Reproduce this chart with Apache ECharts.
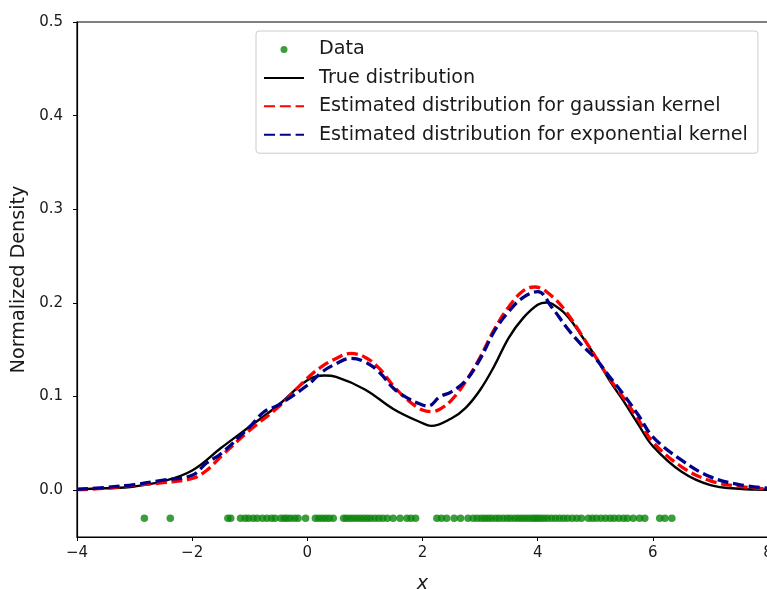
<!DOCTYPE html>
<html>
<head>
<meta charset="utf-8">
<script src="https://cdn.jsdelivr.net/npm/echarts@6/dist/echarts.min.js"></script>
<style>
  html, body { margin: 0; padding: 0; background: #fff; }
  #chart { width: 767px; height: 589px; }
</style>
</head>
<body>
<div id="chart"></div>
<script>
// Sample positions (drawn as a strip just below zero)
const sampleX = [
  -2.83, -2.38, -1.38, -1.33, -1.16, -1.08, -1.02, -0.94, -0.87, -0.78, -0.7, -0.62,
  -0.56, -0.46, -0.4, -0.35, -0.29, -0.22, -0.16, -0.03, 0.14, 0.2, 0.26, 0.32,
  0.38, 0.45, 0.63, 0.68, 0.74, 0.8, 0.86, 0.92, 0.98, 1.04, 1.1, 1.17, 1.24, 1.31,
  1.39, 1.49, 1.61, 1.73, 1.8, 1.88,
  2.25, 2.33, 2.42, 2.55, 2.66, 2.79, 2.88, 2.95, 3.02, 3.08, 3.14, 3.2, 3.27, 3.33,
  3.4, 3.47, 3.53, 3.6, 3.66, 3.72, 3.78, 3.84, 3.9, 3.95, 4.0, 4.05, 4.11, 4.17,
  4.24, 4.31, 4.38, 4.45, 4.52, 4.6, 4.68, 4.76, 4.88, 4.95, 5.02, 5.1, 5.18, 5.26,
  5.33, 5.41, 5.49, 5.56, 5.66, 5.77, 5.86, 6.12, 6.21, 6.33
];
const sampleY = -0.03;

// True density curve
const trueX = [-4, -3.5, -3, -2.5, -2, -1.5, -1, -0.5, 0, 0.3, 0.5, 1, 1.5, 2, 2.15, 2.5, 2.75, 3, 3.25, 3.5, 3.75, 4, 4.15, 4.25, 4.5, 4.75, 5, 5.25, 5.5, 5.75, 6, 6.5, 7, 7.5, 8];
const trueY = [0.001, 0.002, 0.004, 0.0096, 0.021, 0.045, 0.068, 0.091, 0.1175, 0.1225, 0.121, 0.1076, 0.0865, 0.0716, 0.0687, 0.0766, 0.088, 0.107, 0.133, 0.163, 0.184, 0.198, 0.2005, 0.199, 0.187, 0.166, 0.143, 0.117, 0.0944, 0.07, 0.047, 0.0196, 0.0053, 0.0015, 0.0005];

// Gaussian-kernel estimate
const gaussX = [-4, -3.5, -3, -2.5, -2, -1.75, -1.5, -1, -0.5, 0, 0.25, 0.5, 0.75, 1, 1.25, 1.5, 1.75, 2, 2.15, 2.3, 2.5, 2.75, 3, 3.25, 3.5, 3.75, 3.95, 4.25, 4.5, 4.75, 5, 5.25, 5.5, 5.75, 6, 6.5, 7, 7.5, 8];
const gaussY = [0.0005, 0.002, 0.0053, 0.008, 0.0125, 0.021, 0.036, 0.064, 0.089, 0.1195, 0.132, 0.1407, 0.146, 0.142, 0.13, 0.111, 0.096, 0.0855, 0.084, 0.0865, 0.096, 0.116, 0.142, 0.172, 0.196, 0.213, 0.217, 0.207, 0.19, 0.167, 0.143, 0.119, 0.098, 0.075, 0.0516, 0.025, 0.01, 0.004, 0.0015];

// Exponential-kernel estimate
const expoX = [-4, -3.5, -3, -2.5, -2, -1.75, -1.5, -1, -0.75, -0.5, 0, 0.25, 0.5, 0.75, 1, 1.25, 1.5, 1.75, 2, 2.1, 2.3, 2.5, 2.75, 3, 3.25, 3.5, 3.75, 4, 4.25, 4.5, 4.75, 5, 5.25, 5.5, 5.75, 6, 6.5, 7, 7.5, 8];
const expoY = [0.001, 0.003, 0.006, 0.0107, 0.016, 0.029, 0.039, 0.0677, 0.0837, 0.091, 0.112, 0.126, 0.135, 0.1407, 0.137, 0.126, 0.1086, 0.098, 0.091, 0.09, 0.0997, 0.105, 0.117, 0.14, 0.17, 0.191, 0.206, 0.212, 0.195, 0.174, 0.156, 0.141, 0.121, 0.1015, 0.08, 0.057, 0.032, 0.0142, 0.006, 0.002];

const yTicks = [0, 0.1, 0.2, 0.3, 0.4, 0.5];

const pairs = (xs, ys) => xs.map((x, i) => [x, ys[i]]);
const FONT = 'DejaVu Sans';
const INK = '#1a1a1a';
const DASH = [11, 4.8];

// Legend entries for lines show only the stroke (no centre marker)
const lineEntry = name => ({ name, itemStyle: { opacity: 0 } });

const chart = echarts.init(document.getElementById('chart'), null, { renderer: 'canvas' });
chart.setOption({
  animation: false,
  backgroundColor: '#fff',
  textStyle: { fontFamily: FONT },
  grid: {
    left: 77, top: 22, width: 691, height: 515,
    outerBoundsMode: 'none', containLabel: false,
    show: true, borderColor: '#000', borderWidth: 1.2, backgroundColor: 'transparent'
  },
  legend: {
    orient: 'vertical',
    left: 256, top: 31,
    selectedMode: false,
    itemWidth: 40, itemHeight: 7, itemGap: 6.4,
    padding: [7.5, 10, 7.5, 7],
    borderColor: '#cccccc', borderWidth: 1, borderRadius: 3,
    backgroundColor: 'rgba(255,255,255,0.8)',
    textStyle: { fontFamily: FONT, fontSize: 19.2, color: INK, lineHeight: 22, padding: [0, 0, 0, 10] },
    data: [
      { name: 'Data' },
      lineEntry('True distribution'),
      lineEntry('Estimated distribution for gaussian kernel'),
      lineEntry('Estimated distribution for exponential kernel')
    ]
  },
  xAxis: {
    type: 'value', min: -4, max: 8, interval: 2,
    name: 'x', nameLocation: 'middle', nameGap: 38,
    nameTextStyle: { fontFamily: FONT, fontSize: 19.2, fontStyle: 'italic', color: INK },
    axisLine: { show: true, onZero: false, lineStyle: { color: '#000', width: 1.2 } },
    axisTick: { show: true, length: 4, lineStyle: { color: '#000', width: 1 } },
    axisLabel: { fontFamily: FONT, fontSize: 15, color: INK, margin: 9,
      formatter: v => String(v).replace('-', '\u2212') },
    splitLine: { show: false }
  },
  yAxis: {
    type: 'value', min: -0.05, max: 0.5,
    name: 'Normalized Density', nameLocation: 'middle', nameRotate: 90, nameGap: 47,
    nameTextStyle: { fontFamily: FONT, fontSize: 19.2, color: INK },
    axisLine: { show: true, onZero: false, lineStyle: { color: '#000', width: 1.2 } },
    axisTick: { show: true, length: 4, customValues: yTicks, lineStyle: { color: '#000', width: 1 } },
    axisLabel: { fontFamily: FONT, fontSize: 15, color: INK, margin: 14, customValues: yTicks,
      formatter: v => v.toFixed(1) },
    splitLine: { show: false }
  },
  series: [
    {
      name: 'Data', type: 'scatter',
      data: sampleX.map(x => [x, sampleY]),
      symbol: 'circle', symbolSize: 7.5,
      itemStyle: { color: '#0a850a' },
      z: 2
    },
    {
      name: 'True distribution', type: 'line',
      data: pairs(trueX, trueY), smooth: 0.4, symbol: 'none',
      lineStyle: { color: '#000', width: 2.4 },
      itemStyle: { color: '#000' }, z: 3
    },
    {
      name: 'Estimated distribution for gaussian kernel', type: 'line',
      data: pairs(gaussX, gaussY), smooth: 0.4, symbol: 'none',
      lineStyle: { color: '#ff0000', width: 3.3, type: DASH },
      itemStyle: { color: '#ff0000' }, z: 4
    },
    {
      name: 'Estimated distribution for exponential kernel', type: 'line',
      data: pairs(expoX, expoY), smooth: 0.4, symbol: 'none',
      lineStyle: { color: '#00008b', width: 3.3, type: DASH },
      itemStyle: { color: '#00008b' }, z: 5
    }
  ]
});
</script>
</body>
</html>
